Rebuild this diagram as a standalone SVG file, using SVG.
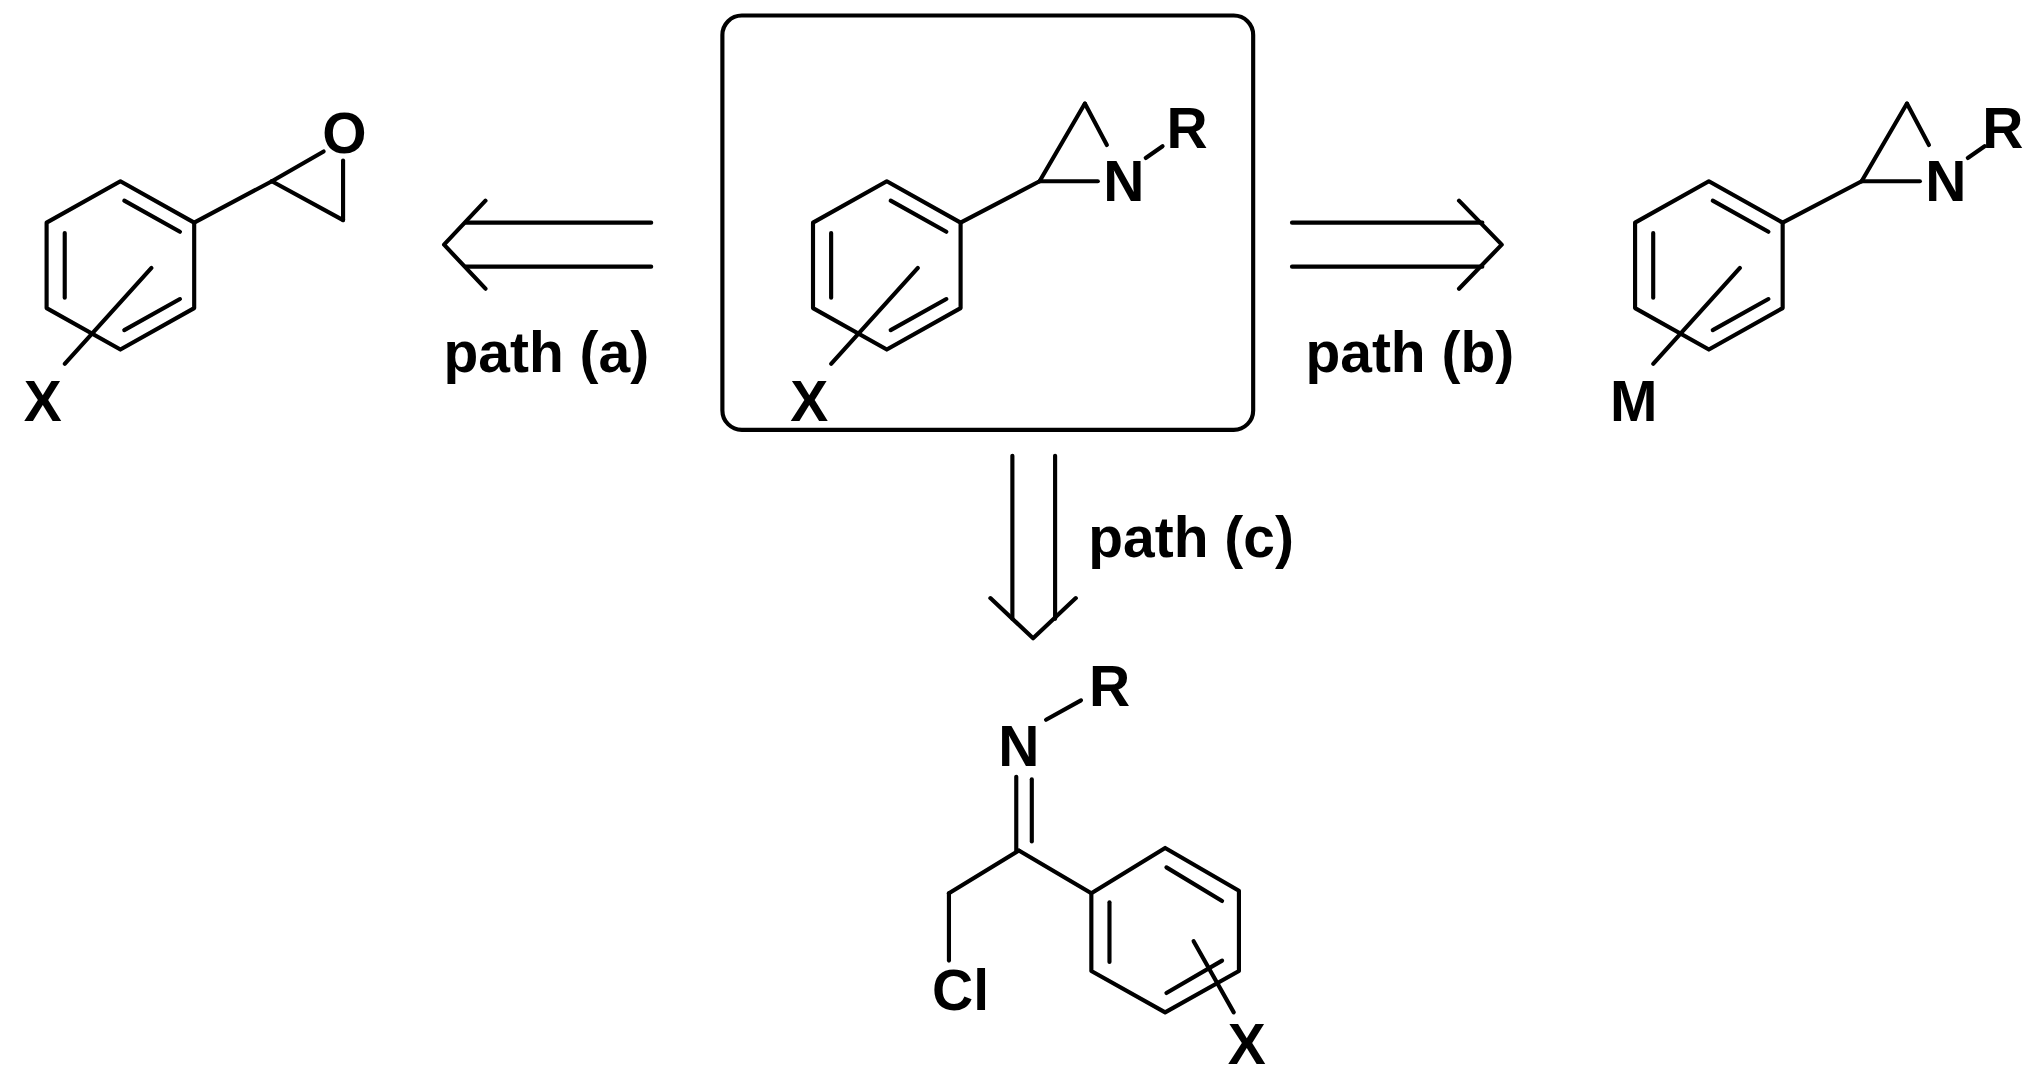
<svg xmlns="http://www.w3.org/2000/svg" width="2030" height="1085" viewBox="0 0 2030 1085">
<style>
.b{stroke:#000;stroke-width:3.2;fill:none;stroke-linecap:round;stroke-linejoin:round}
.t{font-family:"Liberation Sans",Arial,sans-serif;font-weight:bold;font-size:44px;fill:#000}
</style>
<defs>
<g id="benz" class="b">
<polygon points="0,-65 57,-33 57,33 0,65 -57,33 -57,-33"/>
<line x1="3" y1="-50" x2="46" y2="-26"/>
<line x1="3" y1="50" x2="46" y2="26"/>
<line x1="-43" y1="-25" x2="-43" y2="25"/>
<line x1="-43" y1="76" x2="24" y2="2"/>
</g>
</defs>
<rect width="2030" height="1085" fill="#fff"/>
<g transform="scale(1.2946)">
<g id="epoxide">
<use href="#benz" x="93" y="205"/>
<g class="b"><line x1="150" y1="172" x2="210" y2="140"/><line x1="210" y1="140" x2="265" y2="170"/><line x1="265" y1="170" x2="265" y2="124"/><line x1="210" y1="140" x2="250" y2="117"/></g>
<text class="t" x="266" y="118" text-anchor="middle">O</text>
<text class="t" x="33" y="325" text-anchor="middle">X</text>
</g>
<g id="center">
<rect x="558" y="12" width="410" height="320" rx="15" class="b"/>
<use href="#benz" x="685" y="205"/>
<g class="b"><line x1="742" y1="172" x2="803" y2="140"/><line x1="803" y1="140" x2="838" y2="80"/><line x1="838" y1="80" x2="855" y2="112"/><line x1="803" y1="140" x2="848" y2="140"/><line x1="885" y1="122" x2="898" y2="113"/></g>
<text class="t" x="868" y="155" text-anchor="middle">N</text>
<text class="t" x="917" y="114" text-anchor="middle">R</text>
<text class="t" x="625" y="325" text-anchor="middle">X</text>
</g>
<g id="metal">
<use href="#benz" x="1320" y="205"/>
<g class="b"><line x1="1377" y1="172" x2="1438" y2="140"/><line x1="1438" y1="140" x2="1473" y2="80"/><line x1="1473" y1="80" x2="1490" y2="112"/><line x1="1438" y1="140" x2="1483" y2="140"/><line x1="1520" y1="122" x2="1533" y2="113"/></g>
<text class="t" x="1503" y="155" text-anchor="middle">N</text>
<text class="t" x="1547" y="114" text-anchor="middle">R</text>
<text class="t" x="1262" y="325" text-anchor="middle">M</text>
</g>
<g id="imine">
<g class="b">
<polygon points="843,690 900,655 957,688 957,750 900,782 843,750"/>
<line x1="901" y1="670" x2="944" y2="696"/>
<line x1="944" y1="742" x2="901" y2="767"/>
<line x1="857" y1="697" x2="857" y2="743"/>
<line x1="922" y1="727" x2="953" y2="782"/>
<line x1="787" y1="657" x2="843" y2="690"/>
<line x1="787" y1="657" x2="733" y2="690"/>
<line x1="733" y1="690" x2="733" y2="742"/>
<line x1="785" y1="600" x2="785" y2="657"/>
<line x1="797" y1="602" x2="797" y2="650"/>
<line x1="808" y1="556" x2="835" y2="541"/>
</g>
<text class="t" x="787" y="592" text-anchor="middle">N</text>
<text class="t" x="857" y="545" text-anchor="middle">R</text>
<text class="t" x="742" y="780" text-anchor="middle">Cl</text>
<text class="t" x="963" y="822" text-anchor="middle">X</text>
</g>
<g id="connectors" class="b">
<line x1="360" y1="172" x2="503" y2="172"/><line x1="360" y1="206" x2="503" y2="206"/><polyline points="375,155 343,189 375,223"/>
<line x1="998" y1="172" x2="1145" y2="172"/><line x1="998" y1="206" x2="1145" y2="206"/><polyline points="1127,155 1160,189 1127,223"/>
<line x1="782" y1="352" x2="782" y2="478"/><line x1="815" y1="352" x2="815" y2="478"/><polyline points="765,462 798,493 831,462"/>
</g>
<text class="t" x="422" y="287" text-anchor="middle">path (a)</text>
<text class="t" x="1089" y="287" text-anchor="middle">path (b)</text>
<text class="t" x="920" y="430" text-anchor="middle">path (c)</text>
</g>
</svg>
